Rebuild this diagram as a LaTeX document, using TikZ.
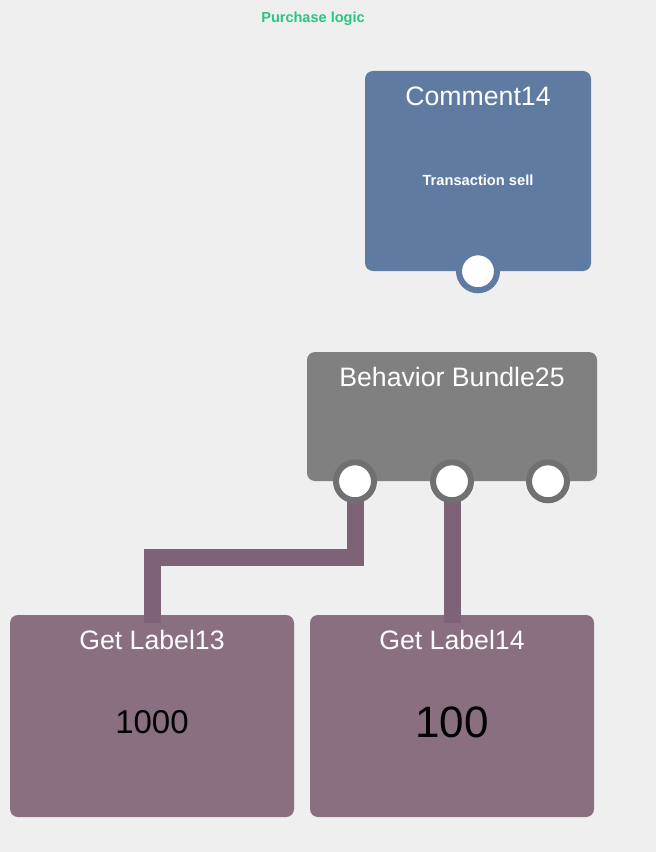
\documentclass[tikz,border=0pt]{standalone}
\usepackage{fontspec}
\setmainfont{Liberation Sans}
\usetikzlibrary{positioning}

\definecolor{canvas}{RGB}{239,239,239}
\definecolor{logicgreen}{RGB}{40,198,130}
\definecolor{commentblue}{RGB}{96,123,161}
\definecolor{bundlegray}{RGB}{128,128,128}
\definecolor{portgray}{RGB}{112,112,112}
\definecolor{labelmauve}{RGB}{137,111,128}
\definecolor{wiremauve}{RGB}{126,99,118}

\begin{document}
\begin{tikzpicture}[x=0.75pt,y=-0.75pt,
  box/.style={rectangle,rounded corners=6pt,inner sep=0pt},
  title/.style={text=white,font=\fontsize{20}{24}\selectfont},
  port/.style={circle,fill=white,line width=4.5pt,minimum size=28.5pt,inner sep=0pt},
  wire/.style={draw=wiremauve,line width=12.75pt}]
\fill[canvas] (0,0) rectangle (656,852);

\node[text=logicgreen,font=\bfseries\fontsize{10.9}{13}\selectfont] (caption) at (313,18.5) {Purchase logic};

\node[box,fill=commentblue,minimum width=169.5pt,minimum height=150pt] (comment) at (478,171) {};
\node[title] (commenttitle) at ([yshift=-19.5pt]comment.north) {Comment14};
\node[text=white,font=\bfseries\fontsize{11}{13}\selectfont] (commenttext) at ([yshift=-6.75pt]comment.center) {Transaction sell};
\node[port,draw=commentblue] (commentport) at (comment.south) {};

\node[box,fill=bundlegray,minimum width=217.5pt,minimum height=96.75pt] (bundle) at (452,416.5) {};
\node[title] (bundletitle) at ([yshift=-18.75pt]bundle.north) {Behavior Bundle25};

\node[box,fill=labelmauve,minimum width=213pt,minimum height=151.5pt] (label13) at (152,716) {};
\node[title] (label13title) at ([yshift=-18.75pt]label13.north) {Get Label13};
\node[font=\fontsize{24.75}{28}\selectfont] (label13value) at ([yshift=-4.5pt]label13.center) {1000};

\node[box,fill=labelmauve,minimum width=213pt,minimum height=151.5pt] (label14) at (452,716) {};
\node[title] (label14title) at ([yshift=-18.75pt]label14.north) {Get Label14};
\node[font=\fontsize{33}{36}\selectfont] (label14value) at ([yshift=-4.5pt]label14.center) {100};

\coordinate (label13in) at ([yshift=-6pt]label13.north);
\coordinate (label14in) at ([yshift=-6pt]label14.north);
\coordinate (bundleout1) at ([xshift=-72.75pt]bundle.south);
\coordinate (bundleout2) at (bundle.south);

\draw[wire] (bundleout1) -- ++(0,76) -| (label13in);
\draw[wire] (bundleout2) -- (label14in);

\node[port,draw=portgray] (bundleport1) at (bundleout1) {};
\node[port,draw=portgray] (bundleport2) at (bundleout2) {};
\node[port,draw=portgray] (bundleport3) at ([xshift=72pt]bundle.south) {};
\end{tikzpicture}
\end{document}
